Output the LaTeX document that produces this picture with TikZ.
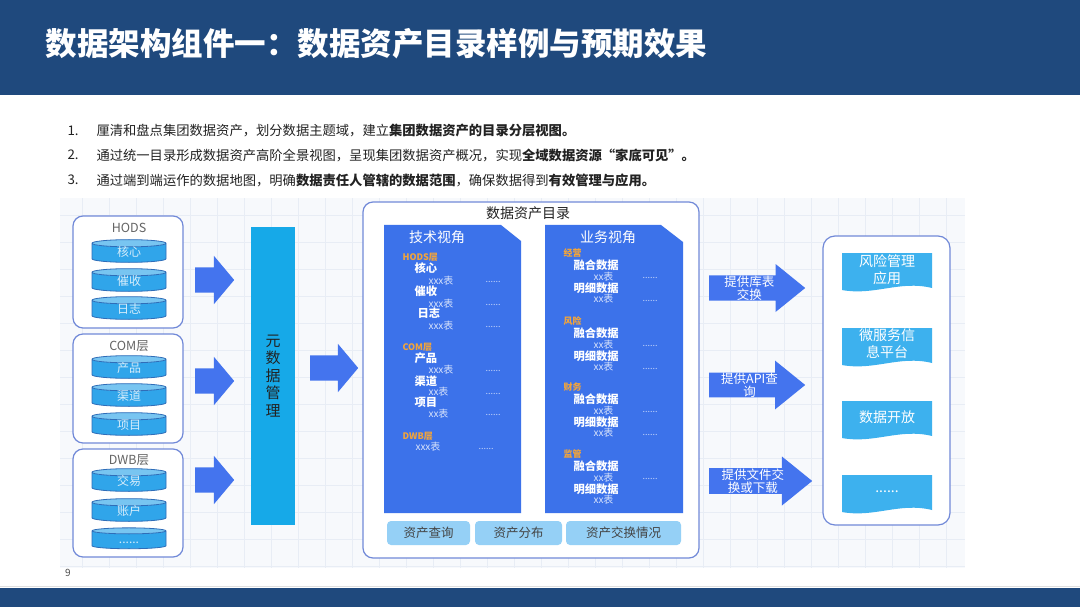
\documentclass[tikz,border=0pt]{standalone}
\usepackage{fontspec}
\setmainfont{Noto Sans CJK SC}
\usetikzlibrary{shapes.geometric,shapes.arrows,positioning}
\definecolor{navy}{HTML}{1F497D}
\definecolor{ink}{HTML}{222222}
\definecolor{arrowblue}{HTML}{4474EE}
\definecolor{cyanbar}{HTML}{16A9E8}
\definecolor{panelblue}{HTML}{3C72EA}
\definecolor{diskblue}{HTML}{30A5EA}
\definecolor{diskline}{HTML}{2F6DB8}
\definecolor{frame}{HTML}{7189D8}
\definecolor{docblue}{HTML}{3DB1EE}
\definecolor{btnblue}{HTML}{95D0F6}
\definecolor{tagorange}{HTML}{F2A43A}
\definecolor{gridbg}{HTML}{F7F9FC}
\definecolor{gridline}{HTML}{E8EDF5}

\begin{document}
\begin{tikzpicture}[x=1pt,y=-1pt,text=ink,font=\fontsize{13.3}{15}\selectfont,
  group/.style={draw=frame,line width=1.2pt,rounded corners=10pt,fill=white,minimum width=110pt},
  grouplbl/.style={text=ink!70,font=\fontsize{12.5}{14}\selectfont},
  disk/.style={cylinder,shape border rotate=90,aspect=0.3,draw=diskline,line width=0.8pt,
    cylinder uses custom fill,cylinder body fill=diskblue,cylinder end fill=diskblue!65!white,
    minimum width=74pt,minimum height=16pt,inner sep=0pt,text height=9pt,text depth=2.5pt,
    text=white!80!diskblue,font=\fontsize{12}{13}\selectfont},
  blockarr/.style={single arrow,fill=arrowblue,single arrow head indent=0pt,inner sep=0pt,anchor=tail},
  plainarr/.style={blockarr,inner ysep=12.5pt,minimum height=39pt,single arrow head extend=11.5pt,single arrow tip angle=100},
  textarr/.style={blockarr,single arrow tip angle=78,text=white,align=center,font=\fontsize{12.5}{13}\selectfont},
  tag/.style={anchor=west,text=tagorange,font=\fontsize{9}{10}\selectfont\bfseries},
  item/.style={anchor=west,text=white,font=\fontsize{11.3}{12}\selectfont\bfseries},
  tbl/.style={anchor=west,text=white!80!panelblue,font=\fontsize{10}{11}\selectfont},
  more/.style={anchor=west,text=white!70!panelblue,font=\fontsize{9}{10}\selectfont},
  btn/.style={fill=btnblue,rounded corners=4pt,minimum height=24pt,inner sep=0pt,text=ink!85,font=\fontsize{12.5}{14}\selectfont},
  docbox/.style={fill=docblue},
  doctext/.style={text=white,align=center,font=\fontsize{14}{17}\selectfont}]
  \useasboundingbox (0,0) rectangle (1080,607);
  \fill[navy] (0,0) rectangle (1080,95);
  \node[anchor=west,text=white,font=\fontsize{31.5}{36}\selectfont\bfseries] (title) at (42,44) {数据架构组件一：数据资产目录样例与预期效果};
  \node[anchor=west] (num1) at (64,131) {1.};
  \node[anchor=west] (pt1) at (93,131) {厘清和盘点集团数据资产，划分数据主题域，建立\textbf{集团数据资产的目录分层视图。}};
  \node[anchor=west] (num2) at (64,155) {2.};
  \node[anchor=west] (pt2) at (93,155) {通过统一目录形成数据资产高阶全景视图，呈现集团数据资产概况，实现\textbf{全域数据资源“家底可见”。}};
  \node[anchor=west] (num3) at (64,180) {3.};
  \node[anchor=west] (pt3) at (93,180) {通过端到端运作的数据地图，明确\textbf{数据责任人管辖的数据范围}，确保数据得到\textbf{有效管理与应用。}};
  % picture area
  \fill[gridbg] (60,198) rectangle (965,568);
  \foreach \gx in {82,109,...,960} \draw[gridline,line width=0.4pt] (\gx,198) -- (\gx,568);
  \foreach \gy in {215,242,...,568} \draw[gridline,line width=0.4pt] (60,\gy) -- (965,\gy);
  % source layers
  \node[group,minimum height=112pt] (hods) at (128,272) {};
  \node[grouplbl] (hodslbl) at (129,228) {HODS};
  \node[disk] (core) at (129,253) {核心};
  \node[disk] (collect) at (129,282) {催收};
  \node[disk] (logs) at (129,310) {日志};
  \node[group,minimum height=109pt] (com) at (128,388.5) {};
  \node[grouplbl] (comlbl) at (129,346) {COM层};
  \node[disk] (product) at (129,369) {产品};
  \node[disk] (channel) at (129,397) {渠道};
  \node[disk] (project) at (129,426) {项目};
  \node[group,minimum height=108pt] (dwb) at (128,503) {};
  \node[grouplbl] (dwblbl) at (129,460) {DWB层};
  \node[disk] (trade) at (129,482) {交易};
  \node[disk] (account) at (129,512) {账户};
  \node[disk] (etc) at (129,540) {......};
  \node[plainarr] (a1) at (195,280) {};
  \node[plainarr] (a2) at (195,381) {};
  \node[plainarr] (a3) at (195,480) {};
  \node[fill=cyanbar,minimum width=44pt,minimum height=298pt,align=center,font=\fontsize{15}{17.5}\selectfont] (meta) at (273,376) {元\\数\\据\\管\\理};
  \node[plainarr,minimum height=48pt] (a4) at (310,368) {};
  % catalogue
  \draw[frame,line width=1.2pt,fill=white,rounded corners=10pt] (363,202) rectangle (699,558);
  \node[font=\fontsize{14}{16}\selectfont] (cattitle) at (528,213) {数据资产目录};
  \fill[panelblue] (384,225) -- (501,225) -- (521,241) -- (521,513) -- (384,513) -- cycle;
  \fill[panelblue] (545,225) -- (661,225) -- (683,242) -- (683,513) -- (545,513) -- cycle;
  \node[text=white,font=\fontsize{14}{16}\selectfont] (techtitle) at (437,237) {技术视角};
  \node[text=white,font=\fontsize{14}{16}\selectfont] (biztitle) at (608,237) {业务视角};
  \node[tag] (t1) at (399,257) {HODS层};
  \node[item] (t2) at (411,268) {核心};
  \node[tbl] (t3) at (425,281) {xxx表};
  \node[more] (t4) at (482,282) {......};
  \node[item] (t5) at (411,291) {催收};
  \node[tbl] (t6) at (425,304) {xxx表};
  \node[more] (t7) at (482,305) {......};
  \node[item] (t8) at (414,313) {日志};
  \node[tbl] (t9) at (425,326) {xxx表};
  \node[more] (t10) at (482,327) {......};
  \node[tag] (t11) at (399,347) {COM层};
  \node[item] (t12) at (411,358) {产品};
  \node[tbl] (t13) at (425,370) {xxx表};
  \node[more] (t14) at (482,371) {......};
  \node[item] (t15) at (411,381) {渠道};
  \node[tbl] (t16) at (425,392) {xx表};
  \node[more] (t17) at (482,394) {......};
  \node[item] (t18) at (411,402) {项目};
  \node[tbl] (t19) at (425,414) {xx表};
  \node[more] (t20) at (482,415) {......};
  \node[tag] (t21) at (399,436) {DWB层};
  \node[tbl] (t22) at (412,447) {xxx表};
  \node[more] (t23) at (475,449) {......};
  \foreach \name/\yy [count=\k] in {经营/253,风险/321,财务/387,监管/454} {
    \node[tag] (b\k-tag) at (560,\yy) {\name};
    \node[item] (b\k-mix) at (570,\yy+12) {融合数据};
    \node[tbl] (b\k-mixt) at (590,\yy+24) {xx表};
    \node[more] (b\k-mixd) at (639,\yy+25) {......};
    \node[item] (b\k-det) at (570,\yy+35) {明细数据};
    \node[tbl] (b\k-dett) at (590,\yy+46) {xx表};
  }
  \foreach \yy [count=\k] in {253,321,387} \node[more] (b\k-detd) at (639,\yy+48) {......};
  \node[btn,minimum width=83pt] (query) at (428.5,533) {资产查询};
  \node[btn,minimum width=87pt] (dist) at (518.5,533) {资产分布};
  \node[btn,minimum width=115pt] (swap) at (623.5,533) {资产交换情况};
  % services
  \node[textarr,minimum height=96pt,minimum width=48pt,single arrow head extend=11pt] (s1) at (709,288) {提供库表\\交换};
  \node[textarr,minimum height=96pt,minimum width=48pt,single arrow head extend=12pt] (s2) at (709,385) {提供API查\\询};
  \node[textarr,minimum height=103pt,minimum width=49pt,single arrow head extend=11.5pt] (s3) at (709,481) {提供文件交\\换或下载};
  \draw[frame,line width=1.2pt,fill=white,rounded corners=12pt] (823,236) rectangle (950,525);
  \foreach \top/\bot in {253/290,328/365,401/438,475/512}
    \fill[docbox] (842,\top) -- (932,\top) -- (932,\bot-2) .. controls (900,\bot-10) and (874,\bot+6) .. (842,\bot) -- cycle;
  \node[doctext] (risk) at (887,270) {风险管理\\应用};
  \node[doctext] (micro) at (887,344) {微服务信\\息平台};
  \node[doctext] (open) at (887,417) {数据开放};
  \node[doctext] (others) at (887,492) {......};
  \node[font=\fontsize{10}{11}\selectfont,text=ink!80] (page) at (68,573) {9};
  \draw[gray!25] (0,586.5) -- (1080,586.5);
  \fill[navy] (0,588) rectangle (1080,607);
\end{tikzpicture}
\end{document}
